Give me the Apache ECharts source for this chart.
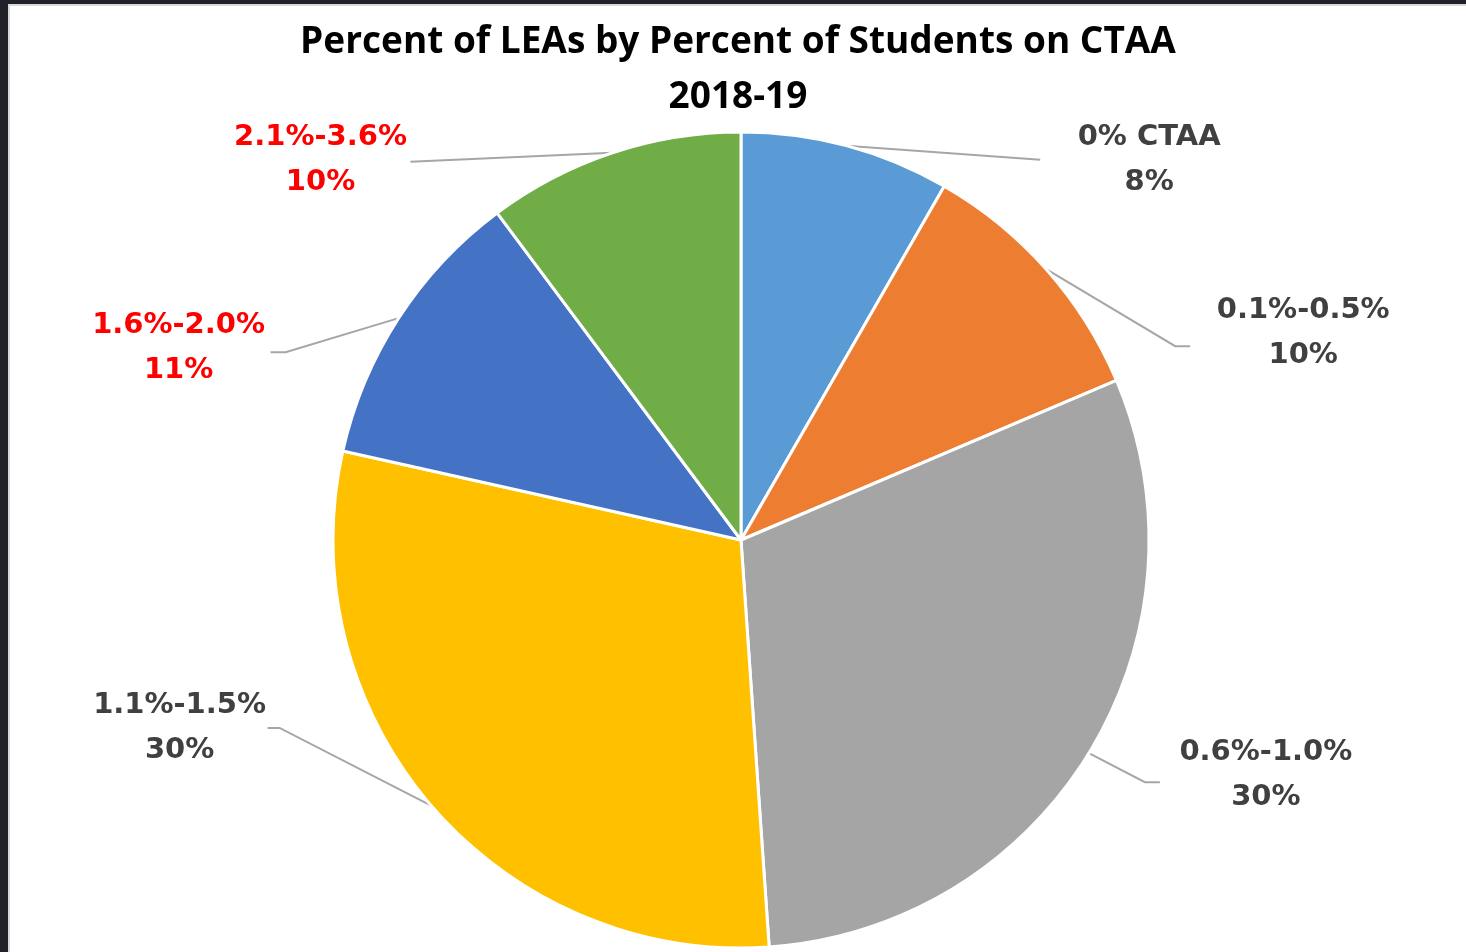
<!DOCTYPE html>
<html>
<head>
<meta charset="utf-8">
<title>Percent of LEAs by Percent of Students on CTAA</title>
<script src="https://cdn.jsdelivr.net/npm/echarts@6/dist/echarts.min.js"></script>
<style>
    html, body {
        margin: 0;
        padding: 0;
        width: 1466px;
        height: 952px;
        overflow: hidden;
        background: #1f2028;
    }
    #chart {
        position: absolute;
        left: 8px;
        top: 4px;
        width: 1456px;
        height: 946px;
        background: #fff;
        border-left: 2px solid #d9d9d9;
        border-top: 2px solid #d9d9d9;
    }
</style>
</head>
<body>
<div id="chart"></div>
<script>
// 各区间名称与占比
var categories = ['0% CTAA', '0.1%-0.5%', '0.6%-1.0%', '1.1%-1.5%', '1.6%-2.0%', '2.1%-3.6%'];
var shares = [8.3, 10.3, 30.3, 29.6, 11.3, 10.2];

var sliceColors = ['#5B9BD5', '#ED7D31', '#A5A5A5', '#FFC000', '#4472C4', '#70AD47'];
var labelColors = ['#404040', '#404040', '#404040', '#404040', '#FF0000', '#FF0000'];

// 标签相对扇区外缘锚点的偏移，引导线终点偏移，折角长度
var leader = [
    {label: [303, 14], end: [194, 14], elbow: 0},
    {label: [257, 64], end: [144, 77], elbow: 15},
    {label: [177, 22], end: [71, 29], elbow: 15},
    {label: [-252, -78], end: [-164, -78], elbow: 12},
    {label: [-220, 30], end: [-128, 34], elbow: 15},
    {label: [-292, 7], end: [-202, 9], elbow: 0}
];

var pieData = [];
for (var i = 0; i < categories.length; i++) {
    pieData.push({
        name: categories[i],
        value: shares[i],
        itemStyle: {color: sliceColors[i]},
        label: {color: labelColors[i]}
    });
}

var myChart = echarts.init(document.getElementById('chart'));
var option = {
    backgroundColor: '#fff',
    animation: false,
    title: {
        text: 'Percent of LEAs by Percent of Students on CTAA\n2018-19',
        left: 'center',
        top: 4,
        textStyle: {
            fontFamily: 'Open Sans',
            fontWeight: 'bold',
            fontSize: 37,
            lineHeight: 55,
            color: '#000'
        }
    },
    series: [
        {
            type: 'pie',
            center: [731, 534],
            radius: 408,
            startAngle: 90,
            clockwise: true,
            avoidLabelOverlap: false,
            itemStyle: {
                borderColor: '#fff',
                borderWidth: 3
            },
            label: {
                show: true,
                position: 'outside',
                fontFamily: 'DejaVu Sans',
                fontWeight: 'bold',
                fontSize: 29,
                lineHeight: 45,
                formatter: function (p) {
                    return p.name + '\n' + Math.round(p.value) + '%';
                }
            },
            labelLine: {
                show: true,
                length: 4,
                length2: 10,
                lineStyle: {color: '#A6A6A6', width: 2}
            },
            labelLayout: function (params) {
                var s = leader[params.dataIndex];
                var a = params.labelLinePoints[0];
                var end = [a[0] + s.end[0], a[1] + s.end[1]];
                var dir = s.end[0] > 0 ? 1 : -1;
                var elbow = [end[0] - dir * s.elbow, end[1]];
                return {
                    x: a[0] + s.label[0],
                    y: a[1] + s.label[1],
                    align: 'center',
                    verticalAlign: 'middle',
                    labelLinePoints: [a, elbow, end]
                };
            },
            data: pieData
        }
    ]
};
myChart.setOption(option);
</script>
</body>
</html>
